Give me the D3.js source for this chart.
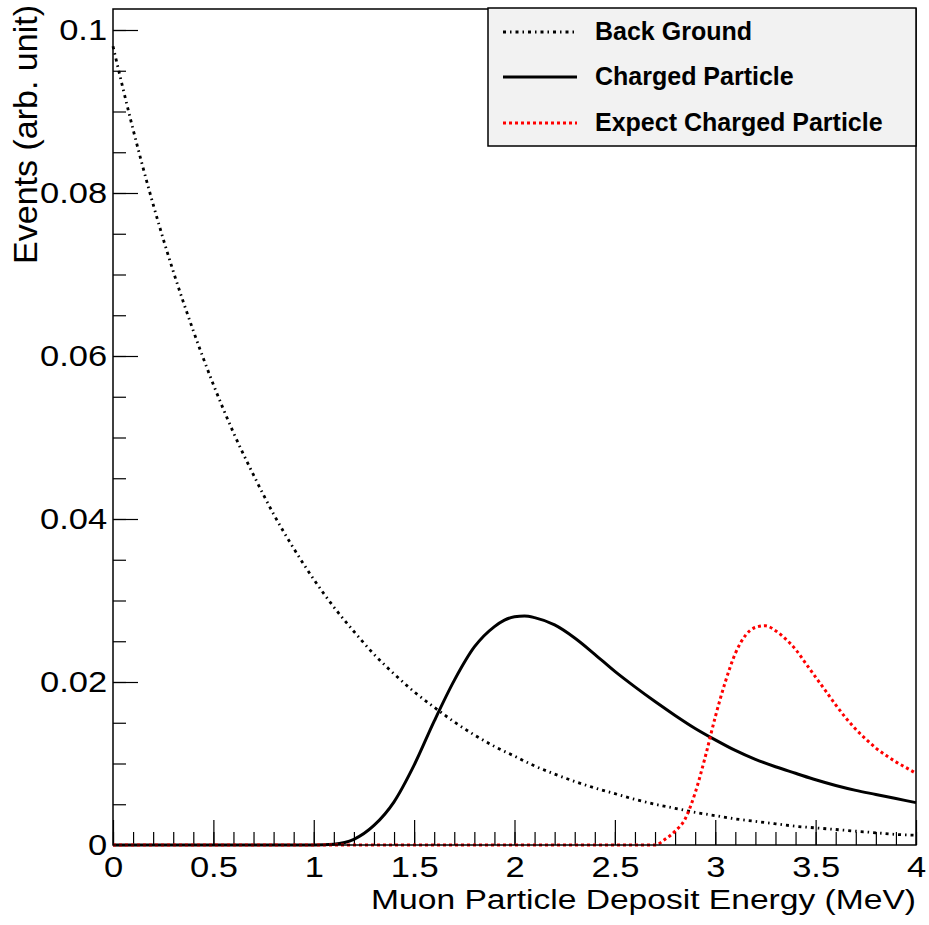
<!DOCTYPE html>
<html>
<head>
<meta charset="utf-8">
<script src="https://cdn.jsdelivr.net/npm/d3@7"></script>
<style>
  body { margin: 0; background: #fff; }
  text { font-family: "Liberation Sans", Arial, sans-serif; }
</style>
</head>
<body>
<div id="chart"></div>
<script>
// values
const bgEnergy = [0,0.1,0.2,0.3,0.4,0.5,0.6,0.7,0.8,0.9,1.0,1.1,1.2,1.3,1.4,1.5,1.6,1.7,1.8,1.9,2.0,
  2.1,2.2,2.3,2.4,2.5,2.6,2.7,2.8,2.9,3.0,3.1,3.2,3.3,3.4,3.5,3.6,3.7,3.8,3.9,4.0]
const bgEvents = [0.0980,0.0878,0.0786,0.0704,0.0631,0.0565,0.0506,0.0454,0.0406,0.0364,0.0326,
  0.0292,0.0262,0.0234,0.0210,0.0188,0.0169,0.0151,0.0135,0.0121,0.0109,
  0.0097,0.0087,0.0078,0.0070,0.0063,0.0056,0.0050,0.0045,0.0040,0.0036,
  0.0032,0.0029,0.0026,0.0023,0.0021,0.0019,0.0017,0.0015,0.0013,0.0012]

const chEnergy = [0,1.0,1.1,1.2,1.3,1.4,1.5,1.6,1.7,1.8,1.9,1.95,2.0,2.05,2.1,2.2,2.3,2.4,2.5,2.6,2.7,2.8,2.9,
  3.0,3.1,3.2,3.3,3.4,3.5,3.6,3.7,3.8,3.9,4.0]
const chEvents = [0,0,0.0001,0.0007,0.0024,0.0053,0.0098,0.0152,0.0202,0.0243,0.0268,0.0276,0.0280,0.0281,
  0.0279,0.0270,0.0254,0.0234,0.0213,0.0194,0.0176,0.0159,0.0143,
  0.0129,0.0116,0.0105,0.0096,0.0088,0.0080,0.0073,0.0067,0.0062,0.0057,0.0052]

const exEnergy = [0,2.70,2.75,2.80,2.85,2.90,2.95,3.00,3.05,3.10,3.15,3.20,3.25,3.30,3.35,3.40,
  3.45,3.50,3.55,3.60,3.65,3.70,3.75,3.80,3.85,3.90,3.95,4.00]
const exEvents = [0,0,0.0007,0.0017,0.0032,0.0064,0.0108,0.0157,0.0200,0.0235,0.0257,0.0267,
  0.0269,0.0263,0.0253,0.0240,0.0223,0.0206,0.0189,0.0172,0.0156,0.0142,
  0.0130,0.0119,0.0110,0.0102,0.0095,0.0088]

const xMajor = [0,0.5,1,1.5,2,2.5,3,3.5,4]
const yMajor = [0,0.02,0.04,0.06,0.08,0.1]

const legendNames = ["Back Ground", "Charged Particle", "Expect Charged Particle"]

const W = 929, H = 925
const mLeft = 113, mRight = 916, mTop = 9, mBottom = 845

const svg = d3.select("#chart").append("svg")
  .attr("width", W)
  .attr("height", H)

svg.append("rect").attr("width", W).attr("height", H).attr("fill", "#fff")

const x = d3.scaleLinear().domain([0, 4]).range([mLeft, mRight])
// 0 -> 845, 0.1 -> 30
const y = d3.scaleLinear().domain([0, 0.1]).range([mBottom, 30])

// minor ticks
const xMinor = d3.range(0, 41).map(i => i / 10)
const yMinor = d3.range(0, 21).map(i => i * 0.005)

svg.append("g")
  .attr("transform", `translate(0,${mBottom})`)
  .call(d3.axisBottom(x).tickValues(xMinor).tickSize(-13).tickFormat(""))
  .call(g => g.select(".domain").remove())

svg.append("g")
  .attr("transform", `translate(${mLeft},0)`)
  .call(d3.axisLeft(y).tickValues(yMinor).tickSize(-13).tickFormat(""))
  .call(g => g.select(".domain").remove())

const xAxis = svg.append("g")
  .attr("transform", `translate(0,${mBottom})`)
  .call(d3.axisBottom(x).tickValues(xMajor).tickSize(-25).tickPadding(11).tickFormat(d3.format("")))
xAxis.select(".domain").remove()

const yAxis = svg.append("g")
  .attr("transform", `translate(${mLeft},0)`)
  .call(d3.axisLeft(y).tickValues(yMajor).tickSize(-25).tickPadding(5).tickFormat(d3.format("")))
yAxis.select(".domain").remove()

svg.selectAll(".tick line").attr("stroke", "#000").attr("stroke-width", 1.2)
svg.selectAll(".tick text")
  .attr("font-family", "Liberation Sans, Arial, sans-serif")
  .attr("font-size", 29.5)
  .attr("fill", "#000")
  .attr("transform", "scale(1.17,1)")

// curves
const line = d3.line()
  .x(d => x(d[0]))
  .y(d => y(d[1]))
  .curve(d3.curveMonotoneX)

const bg = bgEnergy.map((e, i) => [e, bgEvents[i]])
const ch = chEnergy.map((e, i) => [e, chEvents[i]])
const ex = exEnergy.map((e, i) => [e, exEvents[i]])

svg.append("path")
  .attr("d", line(bg))
  .attr("fill", "none")
  .attr("stroke", "#000")
  .attr("stroke-width", 2.8)
  .attr("stroke-dasharray", "3,4,1.5,4")

svg.append("path")
  .attr("d", line(ch))
  .attr("fill", "none")
  .attr("stroke", "#000")
  .attr("stroke-width", 3)

svg.append("path")
  .attr("d", line(ex))
  .attr("fill", "none")
  .attr("stroke", "#f00")
  .attr("stroke-width", 3)
  .attr("stroke-dasharray", "3,3")

// frame
svg.append("rect")
  .attr("x", mLeft).attr("y", mTop)
  .attr("width", mRight - mLeft).attr("height", mBottom - mTop)
  .attr("fill", "none")
  .attr("stroke", "#000")
  .attr("stroke-width", 1.5)

// legend
const leg = svg.append("g")
leg.append("rect")
  .attr("x", 488).attr("y", 8)
  .attr("width", 428).attr("height", 138)
  .attr("fill", "#f2f2f2")
  .attr("stroke", "#000")
  .attr("stroke-width", 1.5)

const legStyles = [
  {stroke: "#000", dash: "3,4,1.5,4", w: 2.8},
  {stroke: "#000", dash: null, w: 3},
  {stroke: "#f00", dash: "3,3", w: 3}
]
const rowY = [32, 77, 123]

legendNames.forEach((name, i) => {
  leg.append("line")
    .attr("x1", 503).attr("x2", 577)
    .attr("y1", rowY[i]).attr("y2", rowY[i])
    .attr("stroke", legStyles[i].stroke)
    .attr("stroke-width", legStyles[i].w)
    .attr("stroke-dasharray", legStyles[i].dash)
  leg.append("text")
    .attr("x", 595)
    .attr("y", rowY[i] + 8)
    .attr("font-size", 25)
    .attr("font-weight", "bold")
    .text(name)
})

// axis titles
svg.append("text")
  .attr("transform", "translate(916,909) scale(1.2,1)")
  .attr("text-anchor", "end")
  .attr("font-size", 28)
  .text("Muon Particle Deposit Energy (MeV)")

svg.append("text")
  .attr("transform", "translate(37,5) rotate(-90)")
  .attr("text-anchor", "end")
  .attr("font-size", 34)
  .text("Events (arb. unit)")
</script>
</body>
</html>
